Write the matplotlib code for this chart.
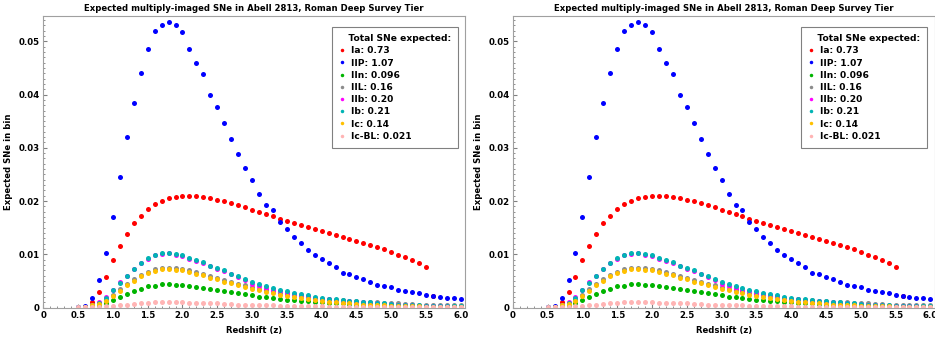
import numpy as np
import matplotlib
matplotlib.use("Agg")
import matplotlib.pyplot as plt
from matplotlib.ticker import MultipleLocator, FixedLocator, FixedFormatter

nan = np.nan

z = [0.5, 0.6, 0.7, 0.8, 0.9, 1.0, 1.1, 1.2, 1.3, 1.4,
     1.5, 1.6, 1.7, 1.8, 1.9, 2.0, 2.1, 2.2, 2.3, 2.4,
     2.5, 2.6, 2.7, 2.8, 2.9, 3.0, 3.1, 3.2, 3.3, 3.4,
     3.5, 3.6, 3.7, 3.8, 3.9, 4.0, 4.1, 4.2, 4.3, 4.4,
     4.5, 4.6, 4.7, 4.8, 4.9, 5.0, 5.1, 5.2, 5.3, 5.4,
     5.5, 5.6, 5.7, 5.8, 5.9, 6.0]

sn_ia = [nan, nan, 0.0011, 0.0029, 0.0057, 0.0090, 0.0116, 0.0139, 0.0158, 0.0173,
         0.0186, 0.0194, 0.0201, 0.0206, 0.0208, 0.0209, 0.0210, 0.0209, 0.0208, 0.0206,
         0.0203, 0.0200, 0.0196, 0.0193, 0.0189, 0.0184, 0.0180, 0.0176, 0.0172, 0.0167,
         0.0163, 0.0159, 0.0156, 0.0151, 0.0147, 0.0143, 0.0141, 0.0136, 0.0133, 0.0129,
         0.0125, 0.0122, 0.0118, 0.0113, 0.0110, 0.0105, 0.0099, 0.0096, 0.0089, 0.0083,
         0.0077, 0.0022, nan, nan, nan, nan]

sn_iip = [0.0001, 0.0003, 0.0019, 0.0052, 0.0103, 0.0170, 0.0246, 0.0320, 0.0384, 0.0441,
          0.0486, 0.0520, 0.0530, 0.0536, 0.0530, 0.0518, 0.0486, 0.0459, 0.0438, 0.0400,
          0.0377, 0.0347, 0.0317, 0.0288, 0.0263, 0.0239, 0.0213, 0.0193, 0.0184, 0.0160,
          0.0147, 0.0133, 0.0121, 0.0108, 0.0099, 0.0092, 0.0083, 0.0077, 0.0066, 0.0063,
          0.0058, 0.0054, 0.0049, 0.0043, 0.0041, 0.0038, 0.0034, 0.0032, 0.0029, 0.0027,
          0.0024, 0.0022, 0.0021, 0.0019, 0.0018, 0.0017]

sn_iin = [nan, 0.0001, 0.0002, 0.0004, 0.0009, 0.0014, 0.0020, 0.0026, 0.0031, 0.0036,
          0.0040, 0.0041, 0.0044, 0.0044, 0.0043, 0.0043, 0.0041, 0.0039, 0.0037, 0.0035,
          0.0033, 0.0031, 0.0029, 0.0027, 0.0025, 0.0023, 0.0021, 0.0020, 0.0018, 0.0017,
          0.0015, 0.0014, 0.0013, 0.0012, 0.0011, 0.0010, 0.0009, 0.0008, 0.0008, 0.0007,
          0.0006, 0.0006, 0.0005, 0.0005, 0.0004, 0.0004, 0.0004, 0.0003, 0.0003, 0.0003,
          0.0003, 0.0002, 0.0002, 0.0002, 0.0002, 0.0002]

sn_iil = [nan, 0.0001, 0.0004, 0.0007, 0.0015, 0.0024, 0.0035, 0.0044, 0.0054, 0.0061,
          0.0067, 0.0072, 0.0074, 0.0075, 0.0074, 0.0072, 0.0070, 0.0067, 0.0063, 0.0059,
          0.0056, 0.0052, 0.0049, 0.0045, 0.0042, 0.0039, 0.0036, 0.0033, 0.0031, 0.0028,
          0.0026, 0.0024, 0.0022, 0.0020, 0.0019, 0.0017, 0.0016, 0.0015, 0.0014, 0.0013,
          0.0012, 0.0011, 0.0010, 0.0010, 0.0009, 0.0008, 0.0008, 0.0007, 0.0007, 0.0006,
          0.0006, 0.0006, 0.0005, 0.0005, 0.0005, 0.0005]

sn_iib = [0.0002, 0.0002, 0.0005, 0.0010, 0.0020, 0.0033, 0.0048, 0.0060, 0.0073, 0.0083,
          0.0092, 0.0098, 0.0101, 0.0102, 0.0099, 0.0097, 0.0092, 0.0088, 0.0083, 0.0078,
          0.0073, 0.0068, 0.0063, 0.0057, 0.0052, 0.0045, 0.0041, 0.0037, 0.0034, 0.0031,
          0.0028, 0.0026, 0.0024, 0.0022, 0.0019, 0.0017, 0.0016, 0.0014, 0.0013, 0.0012,
          0.0011, 0.0010, 0.0009, 0.0008, 0.0007, 0.0007, 0.0006, 0.0005, 0.0005, 0.0004,
          0.0004, 0.0003, 0.0003, 0.0003, 0.0002, 0.0002]

sn_ib = [0.0001, 0.0002, 0.0005, 0.0009, 0.0019, 0.0033, 0.0046, 0.0060, 0.0073, 0.0084,
         0.0093, 0.0099, 0.0102, 0.0103, 0.0101, 0.0099, 0.0094, 0.0090, 0.0085, 0.0079,
         0.0075, 0.0070, 0.0064, 0.0059, 0.0054, 0.0049, 0.0044, 0.0040, 0.0037, 0.0034,
         0.0031, 0.0028, 0.0026, 0.0024, 0.0021, 0.0018, 0.0017, 0.0016, 0.0014, 0.0013,
         0.0012, 0.0011, 0.0010, 0.0009, 0.0008, 0.0007, 0.0006, 0.0006, 0.0005, 0.0005,
         0.0004, 0.0004, 0.0003, 0.0003, 0.0003, 0.0003]

sn_ic = [nan, 0.0001, 0.0005, 0.0007, 0.0013, 0.0022, 0.0032, 0.0042, 0.0051, 0.0059,
         0.0065, 0.0069, 0.0072, 0.0073, 0.0071, 0.0070, 0.0067, 0.0064, 0.0061, 0.0056,
         0.0053, 0.0049, 0.0046, 0.0043, 0.0039, 0.0036, 0.0033, 0.0029, 0.0027, 0.0024,
         0.0022, 0.0020, 0.0018, 0.0016, 0.0014, 0.0013, 0.0011, 0.0010, 0.0009, 0.0008,
         0.0007, 0.0006, 0.0006, 0.0005, 0.0005, 0.0004, 0.0004, 0.0003, 0.0003, 0.0003,
         0.0002, 0.0002, 0.0002, 0.0002, 0.0001, 0.0001]

sn_icbl = [0.0001, 0.0001, 0.0002, 0.0002, 0.0003, 0.0004, 0.0005, 0.0006, 0.0007, 0.0008,
           0.0009, 0.0010, 0.0010, 0.0010, 0.0010, 0.0010, 0.0009, 0.0009, 0.0009, 0.0008,
           0.0008, 0.0007, 0.0007, 0.0006, 0.0006, 0.0006, 0.0005, 0.0005, 0.0005, 0.0004,
           0.0004, 0.0004, 0.0003, 0.0003, 0.0003, 0.0003, 0.0002, 0.0002, 0.0002, 0.0002,
           0.0002, 0.0002, 0.0002, 0.0001, 0.0001, 0.0001, 0.0001, 0.0001, 0.0001, 0.0001,
           0.0001, 0.0001, 0.0001, 0.0001, 0.0001, 0.0001]

labels = ["Ia: 0.73", "IIP: 1.07", "IIn: 0.096", "IIL: 0.16",
          "IIb: 0.20", "Ib: 0.21", "Ic: 0.14", "Ic-BL: 0.021"]
colors = ["#ff0000", "#0000ff", "#00b400", "#8c8c8c",
          "#ff00ff", "#00b4b4", "#ffc000", "#ffb4b4"]
series = [sn_ia, sn_iip, sn_iin, sn_iil, sn_iib, sn_ib, sn_ic, sn_icbl]

xticks = [0, 0.5, 1.0, 1.5, 2.0, 2.5, 3.0, 3.5, 4.0, 4.5, 5.0, 5.5, 6.0]
xtick_labels = ["0", "0.5", "1.0", "1.5", "2.0", "2.5", "3.0", "3.5", "4.0", "4.5", "5.0", "5.5", "6.0"]
yticks = [0, 0.01, 0.02, 0.03, 0.04, 0.05]
ytick_labels = ["0", "0.01", "0.02", "0.03", "0.04", "0.05"]

title = "Expected multiply-imaged SNe in Abell 2813, Roman Deep Survey Tier"

plt.rcParams['font.family'] = 'DejaVu Sans'
plt.rcParams['font.weight'] = 'bold'

fig = plt.figure(figsize=(9.35, 3.39), dpi=100)
ax_left = fig.add_axes([0.0463, 0.0923, 0.451, 0.860])
ax_right = fig.add_axes([0.5485, 0.0923, 0.451, 0.860])

for ax in [ax_left, ax_right]:
    for vals, col, lab in zip(series, colors, labels):
        ax.plot(z, vals, linestyle='none', marker='o', ms=3.6, mew=0,
                color=col, label=lab)

    ax.set_xlim(0, 6.06)
    ax.set_ylim(0, 0.0547)
    ax.xaxis.set_major_locator(FixedLocator(xticks))
    ax.xaxis.set_major_formatter(FixedFormatter(xtick_labels))
    ax.yaxis.set_major_locator(FixedLocator(yticks))
    ax.yaxis.set_major_formatter(FixedFormatter(ytick_labels))
    ax.xaxis.set_minor_locator(MultipleLocator(0.1))
    ax.yaxis.set_minor_locator(MultipleLocator(0.001))
    ax.tick_params(which='both', direction='in', color='#808080',
                   labelsize=6.2, pad=2.5)
    ax.tick_params(which='major', length=3, width=0.8)
    ax.tick_params(which='minor', length=1.5, width=0.6)
    for sp in ax.spines.values():
        sp.set_color('#a0a0a0')
        sp.set_linewidth(0.8)

    ax.set_title(title, fontsize=6.1, fontweight='bold', pad=4)
    ax.set_xlabel("Redshift (z)", fontsize=6.1, fontweight='bold', labelpad=4)
    ax.set_ylabel("Expected SNe in bin", fontsize=6.1, fontweight='bold', labelpad=4)

    # title indented a bit past the entry text, like the original
    leg = ax.legend(title="   Total SNe expected:", loc='upper right',
                    bbox_to_anchor=(0.983, 0.962), fontsize=6.6,
                    title_fontsize=6.6, markerscale=0.7, handlelength=0.6,
                    handletextpad=0.7, labelspacing=0.35, borderpad=0.75,
                    borderaxespad=0, fancybox=False, framealpha=1,
                    alignment='left')
    leg.get_frame().set_edgecolor('#808080')
    leg.get_frame().set_linewidth(0.8)
    leg.get_title().set_fontweight('bold')

fig.savefig("out.png", dpi=100)
